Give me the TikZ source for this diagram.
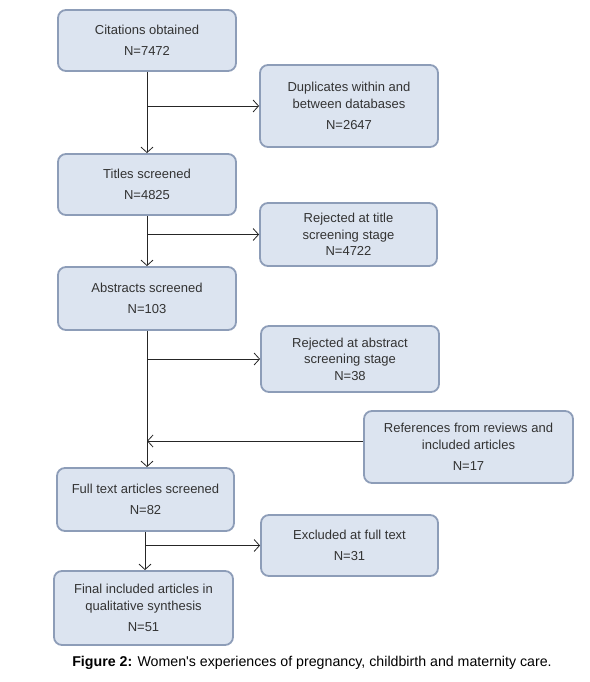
\documentclass[tikz,border=0pt]{standalone}
\usepackage{fontspec}
\setmainfont{Liberation Sans}
\usetikzlibrary{arrows.meta}
\definecolor{boxfill}{HTML}{DCE4F0}
\definecolor{boxline}{HTML}{8D9DB8}
\definecolor{txt}{HTML}{333333}
\tikzset{
  flowbox/.style={draw=boxline, fill=boxfill, rounded corners=8pt, line width=1.8pt,
    align=center, text=txt, inner sep=0pt,
    font=\fontsize{13}{16.5}\selectfont},
  arr/.style={draw=black!85, line width=0.8pt, -{Straight Barb[length=5.5pt,width=12pt,line width=0.8pt]}},
  ln/.style={draw=black!85, line width=0.8pt}
}
\begin{document}
\begin{tikzpicture}[x=1pt,y=-1pt]
\useasboundingbox (0,0) rectangle (589,682);
\node[flowbox, minimum width=178pt, minimum height=61pt] (cit) at (147,40.5) {Citations obtained\\[5pt]N=7472};
\node[flowbox, minimum width=178pt, minimum height=82pt] (dup) at (349,106) {Duplicates within and\\between databases\\[5pt]N=2647};
\node[flowbox, minimum width=178pt, minimum height=61pt] (tit) at (147,184.5) {Titles screened\\[5pt]N=4825};
\node[flowbox, minimum width=177pt, minimum height=63pt] (rt) at (348.5,234.5) {Rejected at title\\screening stage\\N=4722};
\node[flowbox, minimum width=178pt, minimum height=63pt] (abs) at (147,298.5) {Abstracts screened\\[5pt]N=103};
\node[flowbox, minimum width=178pt, minimum height=66pt] (ra) at (350,359) {Rejected at abstract\\screening stage\\N=38};
\node[flowbox, minimum width=209pt, minimum height=72pt] (ref) at (468.5,447) {References from reviews and\\included articles\\[5pt]N=17};
\node[flowbox, minimum width=177pt, minimum height=63pt] (full) at (145.5,499.5) {Full text articles screened\\[5pt]N=82};
\node[flowbox, minimum width=177pt, minimum height=61pt] (exc) at (349.5,545.5) {Excluded at full text\\[5pt]N=31};
\node[flowbox, minimum width=179pt, minimum height=74pt] (fin) at (143.5,608) {Final included articles in\\qualitative synthesis\\[5pt]N=51};
\node[font=\fontsize{14.2}{16}\selectfont, text=black] (cap) at (312,663) {\textbf{Figure 2:} Women\textquotesingle s experiences of pregnancy, childbirth and maternity care.};
% connectors
\draw[arr] (cit.south) -- (tit.north);
\draw[arr] (cit.south |- dup.west) -- (dup.west);
\draw[arr] (tit.south) -- (abs.north);
\draw[arr] (tit.south |- rt.west) -- (rt.west);
\draw[arr] (abs.south) -- (abs.south |- full.north);
\draw[arr] (abs.south |- ra.west) -- (ra.west);
\coordinate (refw) at ([yshift=6pt]ref.west);
\draw[arr] (refw) -- (refw -| abs.south);
\coordinate (ftop) at (full.south -| 145,0);
\draw[arr] (ftop) -- (ftop |- fin.north);
\draw[arr] (ftop |- exc.west) -- (exc.west);
\end{tikzpicture}
\end{document}
